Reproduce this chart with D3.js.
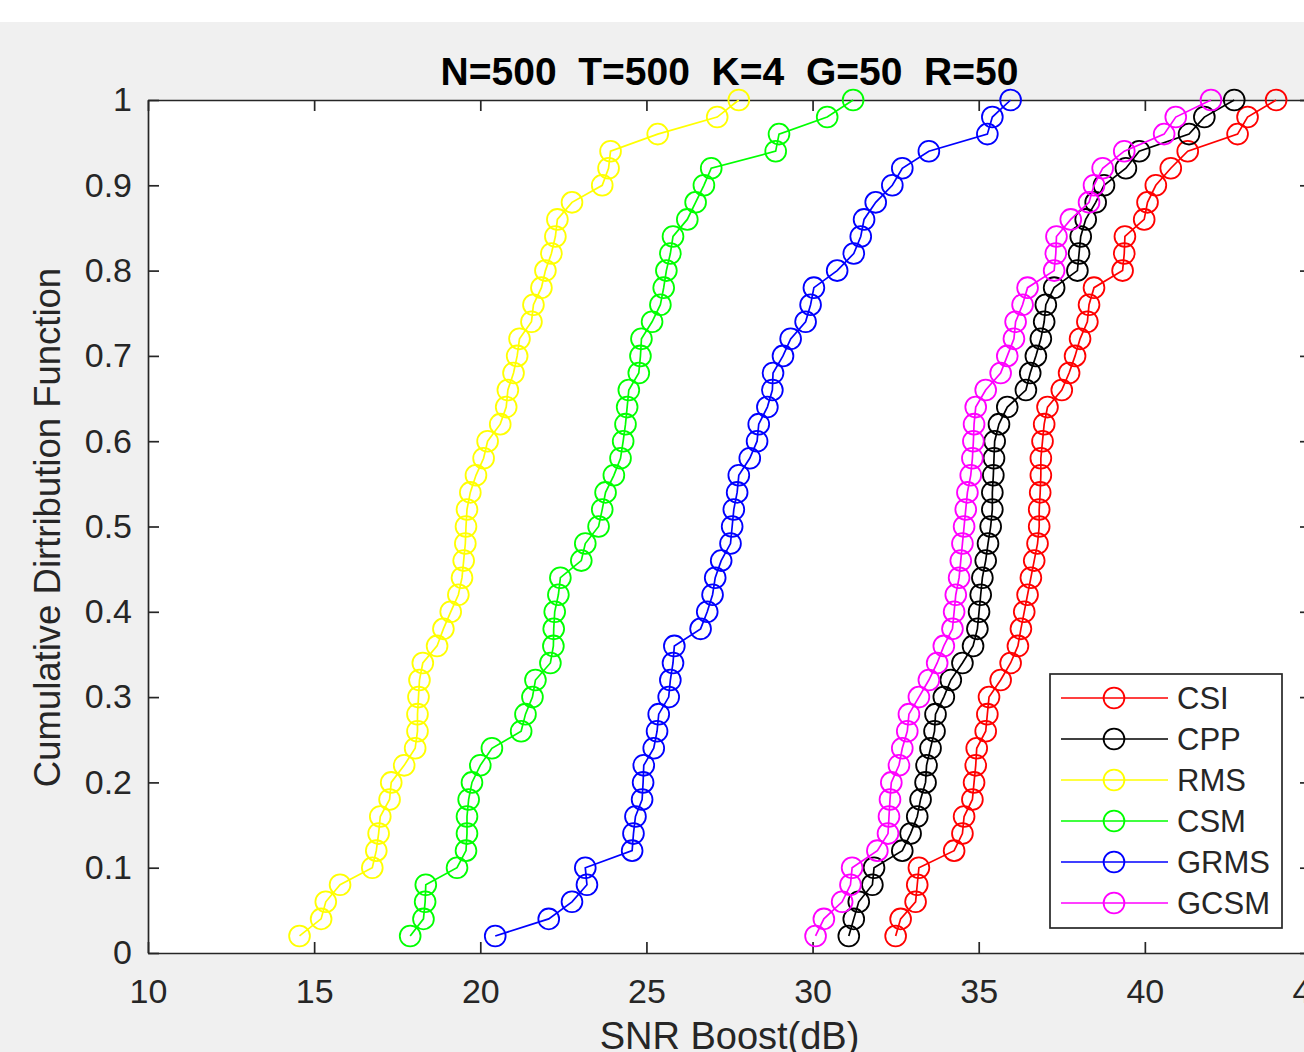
<!DOCTYPE html>
<html><head><meta charset="utf-8">
<script src="https://cdn.jsdelivr.net/npm/d3@7"></script>
<style>html,body{margin:0;padding:0;background:#f0f0f0;overflow:hidden}text{font-family:"Liberation Sans",Arial,sans-serif;fill:#262626}</style>
</head><body><svg id="c" width="1304" height="1052"></svg>
<script>
const cdfLevels = [0.02,0.04,0.06,0.08,0.10,0.12,0.14,0.16,0.18,0.20,0.22,0.24,0.26,0.28,0.30,0.32,0.34,0.36,0.38,0.40,0.42,0.44,0.46,0.48,0.50,0.52,0.54,0.56,0.58,0.60,0.62,0.64,0.66,0.68,0.70,0.72,0.74,0.76,0.78,0.80,0.82,0.84,0.86,0.88,0.90,0.92,0.94,0.96,0.98,1.00];
const seriesNames = ["CSI","CPP","RMS","CSM","GRMS","GCSM"];
const csi = [32.50,32.65,33.10,33.15,33.20,34.26,34.51,34.56,34.81,34.86,34.91,34.94,35.21,35.26,35.31,35.66,35.96,36.18,36.27,36.37,36.47,36.57,36.67,36.77,36.82,36.82,36.85,36.87,36.87,36.92,36.97,37.07,37.50,37.72,37.90,38.05,38.27,38.32,38.47,39.33,39.38,39.40,39.98,40.08,40.33,40.78,41.29,42.79,43.09,43.95];
const cpp = [31.09,31.24,31.39,31.80,31.85,32.70,32.95,33.15,33.25,33.40,33.43,33.55,33.67,33.70,33.95,34.16,34.51,34.83,34.96,35.01,35.06,35.11,35.21,35.28,35.36,35.41,35.41,35.44,35.46,35.48,35.61,35.86,36.42,36.55,36.72,36.87,36.97,37.02,37.27,37.97,38.02,38.07,38.22,38.52,38.77,39.43,39.83,41.33,41.79,42.69];
const rms = [14.56,15.21,15.35,15.78,16.75,16.87,16.94,16.99,17.27,17.32,17.71,18.04,18.11,18.11,18.14,18.17,18.27,18.70,18.89,19.11,19.34,19.45,19.50,19.55,19.57,19.60,19.70,19.87,20.10,20.22,20.60,20.78,20.83,21.00,21.11,21.18,21.54,21.60,21.84,21.96,22.14,22.26,22.32,22.76,23.67,23.86,23.92,25.34,27.13,27.78];
const csm = [17.89,18.29,18.34,18.36,19.30,19.57,19.60,19.60,19.65,19.75,20.00,20.35,21.23,21.36,21.57,21.66,22.11,22.20,22.21,22.24,22.35,22.41,23.04,23.16,23.56,23.67,23.77,24.02,24.22,24.30,24.37,24.42,24.47,24.77,24.82,24.85,25.17,25.42,25.52,25.60,25.72,25.80,26.23,26.48,26.73,26.95,28.89,28.99,30.44,31.22];
const grms = [20.45,22.06,22.76,23.21,23.16,24.57,24.61,24.67,24.87,24.90,24.92,25.22,25.32,25.37,25.67,25.72,25.80,25.84,26.63,26.83,26.99,27.07,27.25,27.53,27.58,27.63,27.73,27.78,28.11,28.33,28.38,28.64,28.79,28.81,29.11,29.34,29.79,29.94,30.04,30.74,31.24,31.45,31.55,31.90,32.40,32.70,33.50,35.26,35.41,35.96];
const gcsm = [30.09,30.34,30.89,31.14,31.19,31.95,32.27,32.30,32.33,32.37,32.60,32.70,32.85,32.90,33.20,33.50,33.75,33.95,34.21,34.26,34.31,34.41,34.46,34.51,34.56,34.61,34.66,34.76,34.81,34.84,34.86,34.91,35.21,35.66,35.86,36.06,36.11,36.32,36.47,37.27,37.32,37.34,37.77,38.32,38.47,38.73,39.38,40.58,40.93,41.99];
const xTickValues = [10,15,20,25,30,35,40,45];
const yTickValues = [0,0.1,0.2,0.3,0.4,0.5,0.6,0.7,0.8,0.9,1];
const yTickLabels = ["0","0.1","0.2","0.3","0.4","0.5","0.6","0.7","0.8","0.9","1"];
const titleText = "N=500  T=500  K=4  G=50  R=50";
const xLabelText = "SNR Boost(dB)";
const yLabelText = "Cumulative Dirtribution Function";

const seriesValues = [csi, cpp, rms, csm, grms, gcsm];
const seriesColors = ["#ff0000","#000000","#ffff00","#00ff00","#0000ff","#ff00ff"];

const svg = d3.select("#c");
const W = 1304, H = 1052;
const L = 148, R = 1311, T = 100, B = 953;
const axisColor = "#262626";

svg.append("rect").attr("x",0).attr("y",0).attr("width",W).attr("height",H).attr("fill","#f0f0f0");
svg.append("rect").attr("x",0).attr("y",0).attr("width",W).attr("height",22).attr("fill","#ffffff");

const x = d3.scaleLinear().domain([10,45]).range([L,R]);
const y = d3.scaleLinear().domain([0,1]).range([B,T]);

svg.append("rect").attr("x",L).attr("y",T).attr("width",R-L).attr("height",B-T).attr("fill","#ffffff");

const tickLen = 11;
function styleAxis(g){
  g.selectAll("path.domain").attr("stroke",axisColor).attr("stroke-width",1.7);
  g.selectAll(".tick line").attr("stroke",axisColor).attr("stroke-width",1.7);
  g.selectAll(".tick text").attr("fill",axisColor).style("font-family",'"Liberation Sans",Arial,sans-serif').style("font-size","34px");
}
const gx = svg.append("g").attr("transform",`translate(0,${B})`)
  .call(d3.axisBottom(x).tickValues(xTickValues).tickSizeInner(-tickLen).tickSizeOuter(0).tickPadding(26).tickFormat(d3.format("d")));
styleAxis(gx);
const gxt = svg.append("g").attr("transform",`translate(0,${T})`)
  .call(d3.axisTop(x).tickValues(xTickValues).tickSizeInner(-tickLen).tickSizeOuter(0).tickFormat(()=>""));
styleAxis(gxt);
const gy = svg.append("g").attr("transform",`translate(${L},0)`)
  .call(d3.axisLeft(y).tickValues(yTickValues).tickSizeInner(-tickLen).tickSizeOuter(0).tickPadding(16).tickFormat((d,i)=>yTickLabels[i]));
styleAxis(gy);
const gyr = svg.append("g").attr("transform",`translate(${R},0)`)
  .call(d3.axisRight(y).tickValues(yTickValues).tickSizeInner(-tickLen).tickSizeOuter(0).tickFormat(()=>""));
styleAxis(gyr);

// series
const line = d3.line().x(d=>x(d[0])).y(d=>y(d[1]));
seriesValues.forEach((vals,si)=>{
  const pts = vals.map((v,i)=>[v, cdfLevels[i]]);
  const g = svg.append("g");
  g.append("path").datum(pts).attr("d",line).attr("fill","none")
    .attr("stroke",seriesColors[si]).attr("stroke-width",1.7);
  g.selectAll("circle").data(pts).join("circle")
    .attr("cx",d=>x(d[0])).attr("cy",d=>y(d[1])).attr("r",10.4)
    .attr("fill","none").attr("stroke",seriesColors[si]).attr("stroke-width",1.8);
});

// title
svg.append("text").attr("x",(L+R)/2).attr("y",85).attr("text-anchor","middle")
  .style("font-size","39px").style("font-weight","bold").style("white-space","pre")
  .style("fill","#000").text(titleText);
// x label
svg.append("text").attr("x",(L+R)/2).attr("y",1049).attr("text-anchor","middle")
  .style("font-size","38px").text(xLabelText);
// y label
svg.append("text").attr("transform",`translate(60,${(T+B)/2 + 1}) rotate(-90)`).attr("text-anchor","middle")
  .style("font-size","36.5px").text(yLabelText);

// legend
const lg = svg.append("g");
lg.append("rect").attr("x",1050).attr("y",674).attr("width",232).attr("height",254)
  .attr("fill","#ffffff").attr("stroke",axisColor).attr("stroke-width",1.7);
const rowY = d3.scalePoint().domain(seriesNames).range([698,903]);
seriesNames.forEach((name,i)=>{
  const cy = rowY(name);
  lg.append("line").attr("x1",1061).attr("x2",1168).attr("y1",cy).attr("y2",cy)
    .attr("stroke",seriesColors[i]).attr("stroke-width",1.7);
  lg.append("circle").attr("cx",1114).attr("cy",cy).attr("r",10.4).attr("fill","none")
    .attr("stroke",seriesColors[i]).attr("stroke-width",1.8);
  lg.append("text").attr("x",1177).attr("y",cy+11).style("font-size","31px").text(name);
});
</script></body></html>
